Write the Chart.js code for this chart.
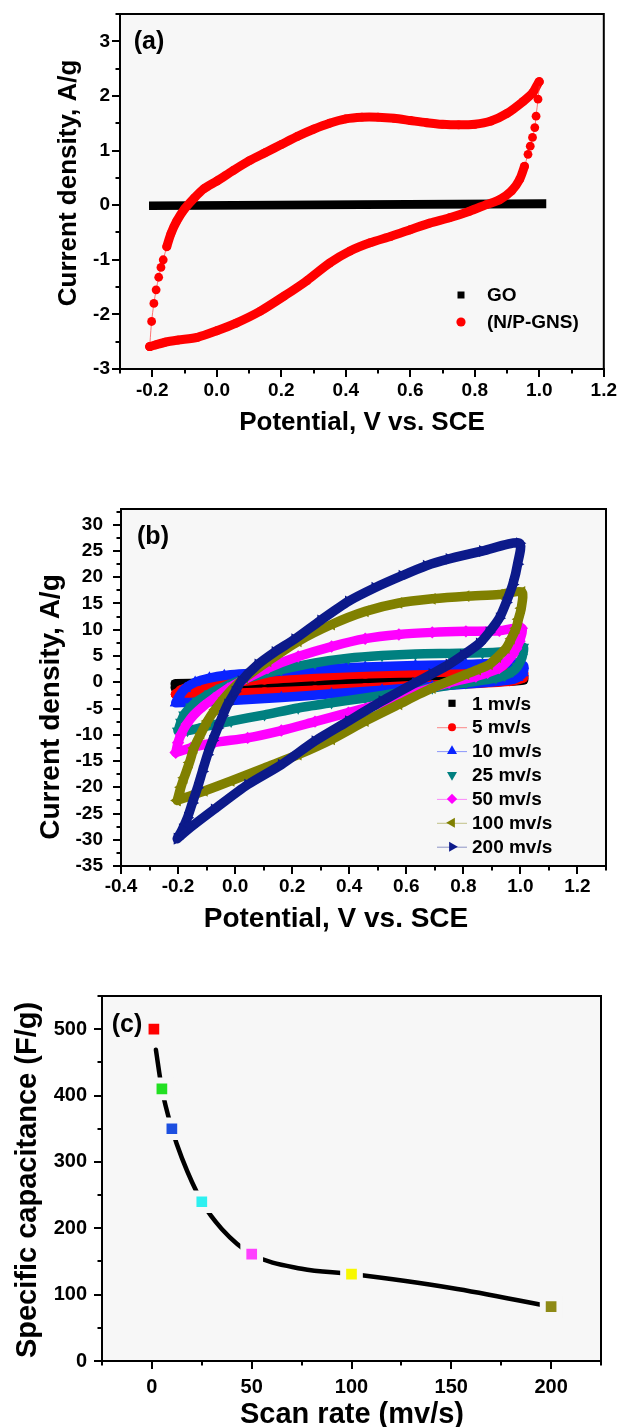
<!DOCTYPE html>
<html>
<head>
<meta charset="utf-8">
<script src="https://cdn.jsdelivr.net/npm/chart.js@4.4.1/dist/chart.umd.min.js"></script>
<style>
  html, body { margin: 0; padding: 0; background: #fff; }
  #wrap { position: relative; width: 619px; height: 1427px; overflow: hidden; background: #fff; }
  #wrap canvas { position: absolute; left: 0; }
</style>
</head>
<body>
<div id="wrap">
  <canvas id="cvA" width="619" height="480" style="top:0px;width:619px;height:480px"></canvas>
  <canvas id="cvB" width="619" height="480" style="top:480px;width:619px;height:480px"></canvas>
  <canvas id="cvC" width="619" height="467" style="top:960px;width:619px;height:467px"></canvas>
</div>
<script>
// ---------- (a) CV at one scan rate: [potential (V vs. SCE), current density (A/g)] ----------
const goLoop = [
  [-0.21, 0.00], [0.45, 0.02], [1.01, 0.04],
  [1.01, 0.01], [0.45, 0.00], [-0.21, -0.02]
];
const npgnsLoop = [
  // anodic sweep
  [-0.208, -2.59], [-0.202, -2.13], [-0.195, -1.80], [-0.188, -1.55], [-0.180, -1.32],
  [-0.173, -1.14], [-0.166, -1.00], [-0.155, -0.76], [-0.142, -0.52], [-0.124, -0.29],
  [-0.100, -0.07], [-0.070, 0.13], [-0.040, 0.30], [0.000, 0.44], [0.050, 0.63],
  [0.100, 0.81], [0.150, 0.96], [0.200, 1.11], [0.250, 1.26], [0.300, 1.39],
  [0.350, 1.50], [0.400, 1.58], [0.450, 1.61], [0.500, 1.61], [0.550, 1.59],
  [0.600, 1.55], [0.650, 1.51], [0.700, 1.48], [0.750, 1.47], [0.800, 1.48],
  [0.850, 1.54], [0.900, 1.68], [0.950, 1.90], [0.980, 2.06], [1.000, 2.26],
  // cathodic sweep
  [0.996, 1.94], [0.990, 1.63], [0.986, 1.42], [0.979, 1.24], [0.972, 1.08],
  [0.965, 0.93], [0.954, 0.71], [0.939, 0.47], [0.914, 0.26], [0.877, 0.10],
  [0.836, 0.01], [0.784, -0.11], [0.722, -0.23], [0.660, -0.33], [0.600, -0.45],
  [0.540, -0.57], [0.475, -0.69], [0.413, -0.84], [0.350, -1.06], [0.280, -1.38],
  [0.210, -1.66], [0.135, -1.94], [0.060, -2.16], [0.000, -2.30], [-0.060, -2.42],
  [-0.120, -2.47], [-0.160, -2.51], [-0.190, -2.56], [-0.208, -2.59]
];
const potentialTicksA = [-0.2, 0.0, 0.2, 0.4, 0.6, 0.8, 1.0, 1.2];
const currentTicksA = [-3, -2, -1, 0, 1, 2, 3];
const seriesLabelsA = ['GO', '(N/P-GNS)'];

// ---------- (b) N/P-GNS CVs at several scan rates ----------
const cv1 = [
  [-0.21, -0.30], [0.00, -0.10], [0.30, 0.25], [0.60, 0.55], [0.90, 0.80], [1.01, 1.00],
  [1.01, 0.40], [0.90, 0.10], [0.60, -0.15], [0.30, -0.45], [0.00, -0.75], [-0.21, -1.00]
];
const cv5 = [
  [-0.208, -2.3], [-0.19, -1.5], [-0.167, -1.0], [-0.073, -0.4], [0.103, 0.5], [0.28, 1.1],
  [0.456, 1.6], [0.632, 1.8], [0.809, 2.0], [0.962, 2.1], [1.01, 1.8],
  [1.009, 0.8], [0.962, 0.2], [0.809, -0.3], [0.632, -0.6], [0.456, -1.1], [0.28, -1.5],
  [0.103, -1.9], [-0.073, -2.2], [-0.208, -2.3]
];
const cv10 = [
  [-0.208, -3.9], [-0.195, -2.6], [-0.175, -1.2], [-0.14, 0.0], [-0.09, 0.8], [-0.038, 1.3],
  [0.103, 1.9], [0.28, 2.5], [0.456, 2.9], [0.632, 3.2], [0.809, 3.4], [0.93, 3.6], [1.01, 3.2],
  [1.009, 1.8], [0.99, 0.9], [0.96, 0.4], [0.867, -0.1], [0.691, -0.8], [0.515, -1.5],
  [0.338, -2.2], [0.162, -2.9], [-0.014, -3.5], [-0.132, -3.8], [-0.208, -3.9]
];
const cv25 = [
  [-0.2, -9.3], [-0.19, -7.6], [-0.179, -6.2], [-0.155, -4.7], [-0.132, -3.6], [-0.09, -2.2],
  [-0.05, -1.1], [0.044, 0.8], [0.162, 2.4], [0.28, 3.7], [0.397, 4.6], [0.515, 5.1],
  [0.632, 5.4], [0.75, 5.5], [0.867, 5.6], [0.962, 5.9], [1.01, 6.7],
  [1.006, 4.8], [1.0, 4.0], [0.99, 3.0], [0.973, 2.1], [0.945, 1.3], [0.914, 0.8],
  [0.809, -0.1], [0.691, -1.1], [0.574, -2.0], [0.456, -3.0], [0.338, -3.9], [0.221, -4.9],
  [0.103, -6.2], [-0.014, -7.4], [-0.108, -8.5], [-0.167, -9.2], [-0.2, -9.3]
];
const cv50 = [
  [-0.208, -13.4], [-0.2, -11.5], [-0.19, -10.0], [-0.17, -8.0], [-0.144, -6.2], [-0.11, -4.5],
  [-0.073, -3.0], [-0.025, -1.2], [0.021, 0.2], [0.115, 2.7], [0.221, 4.9], [0.338, 6.8],
  [0.456, 8.3], [0.574, 9.1], [0.691, 9.5], [0.809, 9.7], [0.926, 9.8], [1.005, 10.3],
  [0.997, 7.8], [0.985, 6.4], [0.973, 5.3], [0.95, 3.8], [0.926, 2.7], [0.885, 1.8],
  [0.844, 1.1], [0.75, -0.1], [0.632, -2.0], [0.515, -4.0], [0.397, -5.8], [0.28, -7.5],
  [0.162, -9.2], [0.044, -10.6], [-0.073, -11.5], [-0.155, -12.5], [-0.208, -13.4]
];
const cv100 = [
  [-0.203, -22.5], [-0.19, -20.0], [-0.179, -18.2], [-0.16, -15.3], [-0.144, -12.5],
  [-0.12, -9.8], [-0.097, -7.4], [-0.07, -5.2], [-0.038, -3.0], [0.0, -0.8], [0.033, 0.8],
  [0.115, 4.0], [0.221, 7.8], [0.338, 11.0], [0.456, 13.5], [0.574, 15.1], [0.691, 15.9],
  [0.809, 16.4], [0.926, 16.7], [1.005, 17.2],
  [1.003, 14.1], [0.993, 12.0], [0.985, 10.3], [0.968, 8.3], [0.95, 6.5], [0.92, 4.8],
  [0.891, 3.4], [0.85, 2.4], [0.809, 1.5], [0.691, -1.1], [0.574, -4.2], [0.456, -7.4],
  [0.338, -10.9], [0.221, -13.8], [0.103, -16.3], [-0.014, -18.8], [-0.108, -20.7],
  [-0.155, -21.6], [-0.203, -22.5]
];
const cv200 = [
  [-0.203, -29.8], [-0.185, -28.0], [-0.167, -25.8], [-0.15, -23.0], [-0.132, -20.1],
  [-0.115, -17.0], [-0.097, -13.8], [-0.079, -11.1], [-0.061, -8.7], [-0.044, -6.4],
  [-0.026, -4.2], [0.0, -1.8], [0.021, 0.2], [0.08, 3.4], [0.14, 5.8], [0.209, 8.2],
  [0.30, 11.8], [0.397, 15.4], [0.49, 18.0], [0.585, 20.3], [0.67, 22.2], [0.75, 23.5],
  [0.867, 25.0], [0.997, 26.5],
  [0.99, 22.5], [0.973, 18.6], [0.95, 15.2], [0.926, 12.2], [0.89, 9.5], [0.856, 7.4],
  [0.80, 5.2], [0.75, 3.4], [0.69, 1.6], [0.632, -0.1], [0.515, -3.6], [0.397, -7.4],
  [0.28, -11.2], [0.162, -15.7], [0.044, -19.5], [-0.073, -24.2], [-0.155, -27.6], [-0.203, -29.8]
];
const scanLoopsB = [cv1, cv5, cv10, cv25, cv50, cv100, cv200];
const scanLabelsB = ['1 mv/s', '5 mv/s', '10 mv/s', '25 mv/s', '50 mv/s', '100 mv/s', '200 mv/s'];
const potentialTicksB = [-0.4, -0.2, 0.0, 0.2, 0.4, 0.6, 0.8, 1.0, 1.2];
const currentTicksB = [-35, -30, -25, -20, -15, -10, -5, 0, 5, 10, 15, 20, 25, 30];

// ---------- (c) specific capacitance vs. scan rate ----------
const scanRates = [1, 5, 10, 25, 50, 100, 200];
const specificCap = [500, 410, 350, 240, 161, 131, 82];
const trendRates = [2, 5, 10, 15, 25, 35, 50, 75, 100, 150, 200];
const trendCap = [469, 410, 350, 306, 240, 199, 161, 139, 131, 110, 82];
const rateTicksC = [0, 50, 100, 150, 200];
const capTicksC = [0, 100, 200, 300, 400, 500];

// ---------- styling ----------
const FONT = '"Liberation Sans", Arial, Helvetica, sans-serif';
const PLOT_BG = '#f7f7f7';
const bStyles = [
  { color: '#000000', shape: 'rect', rot: 0, r: 5.2, line: false },
  { color: '#ff0000', shape: 'circle', rot: 0, r: 5.0, line: true },
  { color: '#0a24ff', shape: 'triangle', rot: 0, r: 6.8, line: true },
  { color: '#008080', shape: 'triangle', rot: 180, r: 6.8, line: false },
  { color: '#ff00ff', shape: 'rectRot', rot: 0, r: 6.2, line: true },
  { color: '#808000', shape: 'triangle', rot: -90, r: 6.8, line: true },
  { color: '#0c1a8a', shape: 'triangle', rot: 90, r: 6.8, line: true }
];
const cMarkerColors = ['#ff0000', '#22e022', '#1c4fe0', '#2ef0f0', '#ff40ff', '#f8f800', '#8e8a16'];

Chart.defaults.font.family = FONT;
Chart.defaults.color = '#000';

const toXY = arr => arr.map(([x, y]) => ({ x, y }));

function drawMarker(ctx, shape, x, y, r, rot, color) {
  ctx.save();
  ctx.translate(x, y);
  ctx.rotate(rot * Math.PI / 180);
  ctx.fillStyle = color;
  ctx.beginPath();
  if (shape === 'rect') {
    ctx.rect(-r, -r, 2 * r, 2 * r);
  } else if (shape === 'circle') {
    ctx.arc(0, 0, r, 0, Math.PI * 2);
  } else if (shape === 'triangle') {
    ctx.moveTo(0, -r);
    ctx.lineTo(r * 0.866, r * 0.5);
    ctx.lineTo(-r * 0.866, r * 0.5);
    ctx.closePath();
  } else if (shape === 'rectRot') {
    ctx.moveTo(0, -r); ctx.lineTo(r, 0); ctx.lineTo(0, r); ctx.lineTo(-r, 0); ctx.closePath();
  }
  ctx.fill();
  ctx.restore();
}

// plot background, box frame, minor ticks, captions and in-plot legend
const decorPlugin = {
  id: 'decor',
  beforeDraw(chart, _args, o) {
    if (!o || !o.on) return;
    const { ctx, chartArea: a } = chart;
    ctx.save();
    ctx.fillStyle = PLOT_BG;
    ctx.fillRect(a.left, a.top, a.right - a.left, a.bottom - a.top);
    ctx.restore();
  },
  afterDraw(chart, _args, o) {
    if (!o || !o.on) return;
    const { ctx, chartArea: a } = chart;
    ctx.save();
    ctx.strokeStyle = '#000';
    ctx.lineWidth = 2;
    ctx.strokeRect(a.left, a.top, a.right - a.left, a.bottom - a.top);

    const minorTicks = (scale, major, minor, horiz) => {
      const n0 = Math.ceil(scale.min / minor - 1e-9), n1 = Math.floor(scale.max / minor + 1e-9);
      for (let n = n0; n <= n1; n++) {
        const v = n * minor, r = v / major;
        if (Math.abs(r - Math.round(r)) < 1e-6) continue;
        const p = Math.round(scale.getPixelForValue(v));
        if (horiz) { ctx.moveTo(p, a.bottom); ctx.lineTo(p, a.bottom + 4.5); }
        else { ctx.moveTo(a.left, p); ctx.lineTo(a.left - 4.5, p); }
      }
    };
    ctx.beginPath();
    minorTicks(chart.scales.x, o.minor.x[0], o.minor.x[1], true);
    minorTicks(chart.scales.y, o.minor.y[0], o.minor.y[1], false);
    ctx.stroke();

    ctx.fillStyle = '#000';
    ctx.textAlign = 'center';
    ctx.textBaseline = 'middle';
    for (const t of o.texts) {
      ctx.save();
      ctx.translate(t.x, t.y);
      if (t.rot) ctx.rotate(-Math.PI / 2);
      ctx.font = `bold ${t.size}px ${FONT}`;
      ctx.fillText(t.text, 0, 0);
      ctx.restore();
    }

    if (o.legend) {
      const L = o.legend;
      ctx.font = `bold ${L.size}px ${FONT}`;
      ctx.textAlign = 'left';
      L.rows.forEach(row => {
        if (row.line) {
          ctx.save();
          ctx.strokeStyle = row.color;
          ctx.globalAlpha = 0.45;
          ctx.lineWidth = 1;
          ctx.beginPath();
          ctx.moveTo(L.lineFrom, row.y + 0.5);
          ctx.lineTo(L.lineTo, row.y + 0.5);
          ctx.stroke();
          ctx.restore();
        }
        drawMarker(ctx, row.shape, L.markerX, row.y, row.r, row.rot, row.color);
        ctx.fillStyle = '#000';
        ctx.fillText(row.label, L.textX, row.y + 1);
      });
    }
    ctx.restore();
  }
};
Chart.register(decorPlugin);

function axis(opts) {
  const { min, max, ticks, fmt, size, pad, fit, horiz } = opts;
  return {
    type: 'linear',
    min, max,
    afterBuildTicks: s => { s.ticks = ticks.map(v => ({ value: v })); },
    afterFit: s => { if (horiz) s.height = fit; else s.width = fit; },
    grid: { drawOnChartArea: false, drawTicks: true, tickLength: 8, lineWidth: 2, color: '#000' },
    border: { display: true, color: '#000', width: 2 },
    ticks: {
      color: '#000', padding: pad, autoSkip: false, maxRotation: 0,
      font: { family: FONT, size, weight: 'bold' },
      callback: fmt
    }
  };
}
const fix1 = v => Number(v).toFixed(1);
const fix0 = v => String(Math.round(v));

function baseOptions(pad, scales, decor) {
  return {
    responsive: false,
    animation: false,
    devicePixelRatio: 1,
    events: [],
    layout: { autoPadding: false, padding: pad },
    scales,
    plugins: { legend: { display: false }, tooltip: { enabled: false }, decor: Object.assign({ on: true }, decor) }
  };
}

// ---------- chart (a) ----------
new Chart(document.getElementById('cvA'), {
  type: 'scatter',
  data: {
    datasets: [
      {
        label: seriesLabelsA[0],
        data: toXY(goLoop),
        showLine: true,
        borderColor: '#000',
        borderWidth: 7.5,
        borderCapStyle: 'butt',
        borderJoinStyle: 'miter',
        pointRadius: 0,
        order: 1
      },
      {
        label: seriesLabelsA[1],
        data: toXY(npgnsLoop),
        showLine: true,
        tension: 0.25,
        borderColor: '#ff0000',
        borderCapStyle: 'round',
        borderJoinStyle: 'round',
        borderWidth: 9,
        segment: {
          borderWidth: c => Math.abs(c.p1.parsed.x - c.p0.parsed.x) < 0.012 ? 1 : 9,
          borderColor: c => Math.abs(c.p1.parsed.x - c.p0.parsed.x) < 0.012 ? 'rgba(255,60,60,0.7)' : '#ff0000'
        },
        pointStyle: 'circle',
        pointRadius: 4.4,
        pointBackgroundColor: '#ff0000',
        pointBorderWidth: 0,
        order: 0
      }
    ]
  },
  options: baseOptions({ top: 14, right: 15, left: 0, bottom: 0 }, {
    x: axis({ min: -0.3, max: 1.2, ticks: potentialTicksA, fmt: fix1, size: 19, pad: 2, fit: 111, horiz: true }),
    y: axis({ min: -3, max: 3.5, ticks: currentTicksA, fmt: fix0, size: 19, pad: 2, fit: 120, horiz: false })
  }, {
    minor: { x: [0.2, 0.1], y: [1, 0.5] },
    texts: [
      { text: 'Current density, A/g', x: 69, y: 183, size: 26, rot: true },
      { text: 'Potential, V vs. SCE', x: 362, y: 423, size: 26 },
      { text: '(a)', x: 149, y: 42, size: 25 }
    ],
    legend: {
      size: 19, markerX: 461, textX: 487, lineFrom: 448, lineTo: 474,
      rows: [
        { label: seriesLabelsA[0], y: 295, shape: 'rect', r: 3.5, rot: 0, color: '#000', line: false },
        { label: seriesLabelsA[1], y: 322, shape: 'circle', r: 4.6, rot: 0, color: '#ff0000', line: false }
      ]
    }
  })
});

// ---------- chart (b) ----------
new Chart(document.getElementById('cvB'), {
  type: 'scatter',
  data: {
    datasets: scanLoopsB.map((loop, i) => ({
      label: scanLabelsB[i],
      data: toXY(loop),
      showLine: true,
      tension: 0.25,
      borderColor: bStyles[i].color,
      borderWidth: 9.5,
      borderCapStyle: 'round',
      borderJoinStyle: 'round',
      pointStyle: bStyles[i].shape,
      pointRotation: bStyles[i].rot,
      pointRadius: bStyles[i].r,
      pointBackgroundColor: bStyles[i].color,
      pointBorderWidth: 0,
      order: scanLoopsB.length - 1 - i
    }))
  },
  options: baseOptions({ top: 29, right: 13, left: 0, bottom: 0 }, {
    x: axis({ min: -0.4, max: 1.3, ticks: potentialTicksB, fmt: fix1, size: 19, pad: 1, fit: 94, horiz: true }),
    y: axis({ min: -35, max: 33, ticks: currentTicksB, fmt: fix0, size: 19, pad: 10, fit: 121, horiz: false })
  }, {
    minor: { x: [0.2, 0.1], y: [5, 2.5] },
    texts: [
      { text: 'Current density, A/g', x: 51, y: 227, size: 28, rot: true },
      { text: 'Potential, V vs. SCE', x: 336, y: 439, size: 28 },
      { text: '(b)', x: 153, y: 57, size: 25 }
    ],
    legend: {
      size: 19, markerX: 452, textX: 472, lineFrom: 437, lineTo: 467,
      rows: scanLabelsB.map((label, i) => ({
        label, y: 223.3 + i * 23.9, shape: bStyles[i].shape,
        r: bStyles[i].shape === 'rect' ? 3.6 : bStyles[i].r - 1,
        rot: bStyles[i].rot, color: bStyles[i].color, line: bStyles[i].line
      }))
    }
  })
});

// ---------- chart (c) ----------
new Chart(document.getElementById('cvC'), {
  type: 'scatter',
  data: {
    datasets: [
      {
        label: 'trend',
        data: trendRates.map((x, i) => ({ x, y: trendCap[i] })),
        showLine: true,
        cubicInterpolationMode: 'monotone',
        borderColor: '#000',
        borderWidth: 4.5,
        borderCapStyle: 'round',
        pointRadius: 0,
        order: 1
      },
      {
        label: 'Specific capacitance',
        data: scanRates.map((x, i) => ({ x, y: specificCap[i] })),
        showLine: false,
        pointStyle: 'rect',
        pointRadius: 11.8,
        pointBackgroundColor: cMarkerColors,
        pointBorderColor: PLOT_BG,
        pointBorderWidth: 6,
        order: 0
      }
    ]
  },
  options: baseOptions({ top: 36, right: 18, left: 0, bottom: 0 }, {
    x: axis({ min: -25, max: 225, ticks: rateTicksC, fmt: fix0, size: 20, pad: 6, fit: 66, horiz: true }),
    y: axis({ min: 0, max: 550, ticks: capTicksC, fmt: fix0, size: 20, pad: 7, fit: 102, horiz: false })
  }, {
    minor: { x: [50, 25], y: [100, 50] },
    texts: [
      { text: 'Specific capacitance (F/g)', x: 28, y: 220, size: 29, rot: true },
      { text: 'Scan rate (mv/s)', x: 352, y: 455, size: 29 },
      { text: '(c)', x: 127, y: 65, size: 25 }
    ]
  })
});
</script>
</body>
</html>
